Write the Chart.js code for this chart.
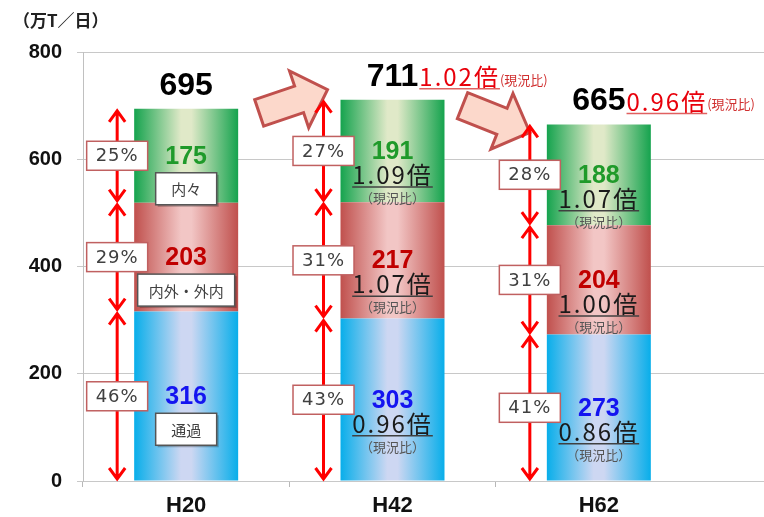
<!DOCTYPE html>
<html lang="ja">
<head>
<meta charset="UTF-8">
<title>交通量の推移</title>
<script src="https://cdn.jsdelivr.net/npm/chart.js"></script>
<style>
  body { margin: 0; background: #ffffff; }
  .chart-container { position: relative; width: 764px; height: 517px; }
</style>
</head>
<body>
<div class="chart-container"><canvas id="trafficChart" width="764" height="517"></canvas></div>
<script>
// data
const categories = ['H20', 'H42', 'H62'];
const seriesNames = ['通過', '内外・外内', '内々'];
const passThrough = [316, 303, 273];
const inOut = [203, 217, 204];
const inner = [175, 191, 188];
const totals = [695, 711, 665];
const totalRatios = [null, 1.02, 0.96];
const shares = [[46, 29, 25], [43, 31, 27], [41, 31, 28]];
const ratios = [null, [0.96, 1.07, 1.09], [0.86, 1.00, 1.07]];
const yTicks = [0, 200, 400, 600, 800];

const BAR_PCT = 0.504;
const JP = '"Noto Sans CJK JP", sans-serif';
const LAT = '"Liberation Sans", Arial, sans-serif';

// edge / centre colours of the horizontal bar gradients
const palettes = [
    ['#08aeea', '#cdd7f2'],
    ['#c0504d', '#f2c6c5'],
    ['#15a34e', '#e0e9c8']
];
const valueColors = ['#1414f0', '#c00000', '#1f9a2a'];

function barFill(c, p) {
    const chart = c.chart;
    if (!chart.chartArea) return p[0];
    const xs = chart.scales.x;
    const cx = xs.getPixelForValue(c.dataIndex);
    const half = (xs.getPixelForValue(1) - xs.getPixelForValue(0)) * BAR_PCT / 2;
    const g = chart.ctx.createLinearGradient(cx - half, 0, cx + half, 0);
    g.addColorStop(0, p[0]);
    g.addColorStop(0.45, p[1]);
    g.addColorStop(0.55, p[1]);
    g.addColorStop(1, p[0]);
    return g;
}

function blockArrow(ctx, x0, y0, x1, y1) {
    const L = Math.hypot(x1 - x0, y1 - y0), a = Math.atan2(y1 - y0, x1 - x0);
    const bw = 14, hw = 30, hl = 30;
    ctx.save();
    ctx.translate(x0, y0);
    ctx.rotate(a);
    ctx.beginPath();
    ctx.moveTo(0, -bw);
    ctx.lineTo(L - hl, -bw);
    ctx.lineTo(L - hl, -hw);
    ctx.lineTo(L, 0);
    ctx.lineTo(L - hl, hw);
    ctx.lineTo(L - hl, bw);
    ctx.lineTo(0, bw);
    ctx.closePath();
    ctx.fillStyle = '#fcd8cb';
    ctx.fill();
    ctx.lineWidth = 3;
    ctx.strokeStyle = '#c0504d';
    ctx.stroke();
    ctx.restore();
}

function dblArrow(ctx, x, yTop, yBot) {
    const gap = 2, hh = 11, hwid = 8;
    const t = yTop + gap, b = yBot - gap;
    ctx.save();
    ctx.strokeStyle = '#ff0000';
    ctx.lineWidth = 3;
    ctx.beginPath();
    ctx.moveTo(x, t); ctx.lineTo(x, b);
    ctx.moveTo(x - hwid, t + hh); ctx.lineTo(x, t); ctx.lineTo(x + hwid, t + hh);
    ctx.moveTo(x - hwid, b - hh); ctx.lineTo(x, b); ctx.lineTo(x + hwid, b - hh);
    ctx.stroke();
    ctx.restore();
}

function boxText(ctx, x, y, w, h, text, font, border, shadow, spacing) {
    ctx.save();
    if (shadow) {
        ctx.fillStyle = 'rgba(0,0,0,0.25)';
        ctx.fillRect(x - w / 2 + 2, y - h / 2 + 2, w, h);
    }
    ctx.fillStyle = '#ffffff';
    ctx.fillRect(x - w / 2, y - h / 2, w, h);
    ctx.lineWidth = 1.5;
    ctx.strokeStyle = border;
    ctx.strokeRect(x - w / 2, y - h / 2, w, h);
    ctx.font = font;
    ctx.letterSpacing = spacing || '0px';
    ctx.fillStyle = '#404040';
    ctx.textAlign = 'center';
    ctx.textBaseline = 'middle';
    ctx.fillText(text, x, y + 1);
    ctx.restore();
}

function underlined(ctx, text, x, y, align, font, color, lineColor) {
    ctx.save();
    ctx.font = font;
    ctx.letterSpacing = '2px';
    ctx.fillStyle = color;
    ctx.textAlign = align;
    ctx.textBaseline = 'middle';
    ctx.fillText(text, x, y);
    const w = ctx.measureText(text).width;
    const x0 = align === 'center' ? x - w / 2 : x;
    ctx.strokeStyle = lineColor;
    ctx.lineWidth = 1.5;
    ctx.beginPath();
    ctx.moveTo(x0, y + 12);
    ctx.lineTo(x0 + w, y + 12);
    ctx.stroke();
    ctx.restore();
    return w;
}

const annotate = {
    id: 'annotate',
    beforeDatasetsDraw(chart) {
        // grid lines run on past the plot to the right edge
        const { ctx, chartArea } = chart;
        const ys = chart.scales.y;
        ctx.save();
        ctx.strokeStyle = '#c8c8c8';
        ctx.lineWidth = 1;
        yTicks.forEach(v => {
            const y = Math.round(ys.getPixelForValue(v) - 0.5) + 0.5;
            ctx.beginPath();
            ctx.moveTo(chartArea.right - 1, y);
            ctx.lineTo(chart.width, y);
            ctx.stroke();
        });
        ctx.restore();
    },
    afterDatasetsDraw(chart) {
        const { ctx } = chart;
        const xs = chart.scales.x, ys = chart.scales.y;
        const half = (xs.getPixelForValue(1) - xs.getPixelForValue(0)) * BAR_PCT / 2;
        const series = [passThrough, inOut, inner];
        const geo = categories.map((c, i) => {
            const cx = xs.getPixelForValue(i);
            return { cx, right: cx + half, ax: cx - half - 17, top: chart.getDatasetMeta(2).data[i].y };
        });

        // axis unit
        ctx.save();
        ctx.font = 'bold 17px ' + JP;
        ctx.fillStyle = '#222';
        ctx.textBaseline = 'middle';
        ctx.fillText('（万T／日）', 13, 21);
        ctx.restore();

        // big pink arrows between bars
        blockArrow(ctx, geo[0].right + 21, geo[0].top + 4, geo[1].ax + 4, geo[1].top - 10);
        blockArrow(ctx, geo[1].right + 18, geo[1].top + 6, geo[2].ax, geo[2].top + 8);

        categories.forEach((c, i) => {
            const g = geo[i];
            let cum = 0;
            series.forEach((s, j) => {
                const y0 = ys.getPixelForValue(cum);
                cum += s[i];
                const y1 = ys.getPixelForValue(cum);
                const mid = (y0 + y1) / 2;
                dblArrow(ctx, g.ax, y1, y0);
                boxText(ctx, g.ax, mid, 61, 29, shares[i][j] + '%', '18px "DejaVu Sans", sans-serif', '#c06060', false, '1px');

                ctx.save();
                ctx.font = 'bold 25px ' + LAT;
                ctx.fillStyle = valueColors[j];
                ctx.textAlign = 'center';
                ctx.textBaseline = 'middle';
                ctx.fillText(String(s[i]), g.cx, mid + 1);
                ctx.restore();

                if (!ratios[i]) {
                    ctx.save();
                    ctx.font = '15px ' + JP;
                    const w = Math.max(61, ctx.measureText(seriesNames[j]).width + 22);
                    ctx.restore();
                    boxText(ctx, g.cx, mid + 33, w, 32, seriesNames[j], '15px ' + JP, '#555555', true);
                } else {
                    underlined(ctx, ratios[i][j].toFixed(2) + '倍', g.cx, mid + 24, 'center', '24px ' + JP, '#1a1a1a', '#404040');
                    ctx.save();
                    ctx.font = '13px ' + JP;
                    ctx.fillStyle = '#555555';
                    ctx.textAlign = 'center';
                    ctx.textBaseline = 'middle';
                    ctx.fillText('（現況比）', g.cx, mid + 47);
                    ctx.restore();
                }
            });

            // total above the bar
            const ty = g.top - 23;
            ctx.save();
            ctx.font = 'bold 32px ' + LAT;
            ctx.fillStyle = '#000000';
            ctx.textAlign = 'center';
            ctx.textBaseline = 'middle';
            ctx.fillText(String(totals[i]), g.cx, ty);
            const nw = ctx.measureText(String(totals[i])).width;
            ctx.restore();
            if (totalRatios[i]) {
                const rx = g.cx + nw / 2 + 1;
                const rw = underlined(ctx, totalRatios[i].toFixed(2) + '倍', rx, ty, 'left', '24px ' + JP, '#e8000b', '#e06060');
                ctx.save();
                ctx.font = '13px ' + JP;
                ctx.fillStyle = '#d03030';
                ctx.textBaseline = 'middle';
                ctx.fillText('(現況比)', rx + rw, ty + 3);
                ctx.restore();
            }
        });
    }
};

const ctx = document.getElementById('trafficChart').getContext('2d');
const trafficChart = new Chart(ctx, {
    type: 'bar',
    data: {
        labels: categories,
        datasets: [passThrough, inOut, inner].map((d, j) => ({
            label: seriesNames[j],
            data: d,
            backgroundColor: c => barFill(c, palettes[j]),
            borderWidth: 0,
            categoryPercentage: 1,
            barPercentage: BAR_PCT
        }))
    },
    options: {
        responsive: false,
        animation: false,
        layout: { padding: { left: 0, right: 62, top: 52, bottom: 0 } },
        plugins: { legend: { display: false }, tooltip: { enabled: false } },
        scales: {
            x: {
                stacked: true,
                afterFit: s => { s.height = 36; },
                grid: {
                    drawOnChartArea: false,
                    offset: true,
                    tickLength: 6,
                    // the closing tick at the right end is not drawn in the original
                    color: c => c.type === 'tick' ? '#b8b8b8' : 'rgba(0,0,0,0)'
                },
                border: { color: '#c8c8c8' },
                ticks: { padding: 6, color: '#111', font: { family: LAT, weight: 'bold', size: 22 } }
            },
            y: {
                stacked: true,
                min: 0,
                max: 800,
                afterFit: s => { s.width = 83; },
                afterBuildTicks: s => { s.ticks = yTicks.map(v => ({ value: v })); },
                grid: { color: '#c8c8c8', tickLength: 6 },
                border: { color: '#c0c0c0' },
                ticks: { padding: 15, color: '#111', font: { family: LAT, weight: 'bold', size: 20 } }
            }
        }
    },
    plugins: [annotate]
});
</script>
</body>
</html>
